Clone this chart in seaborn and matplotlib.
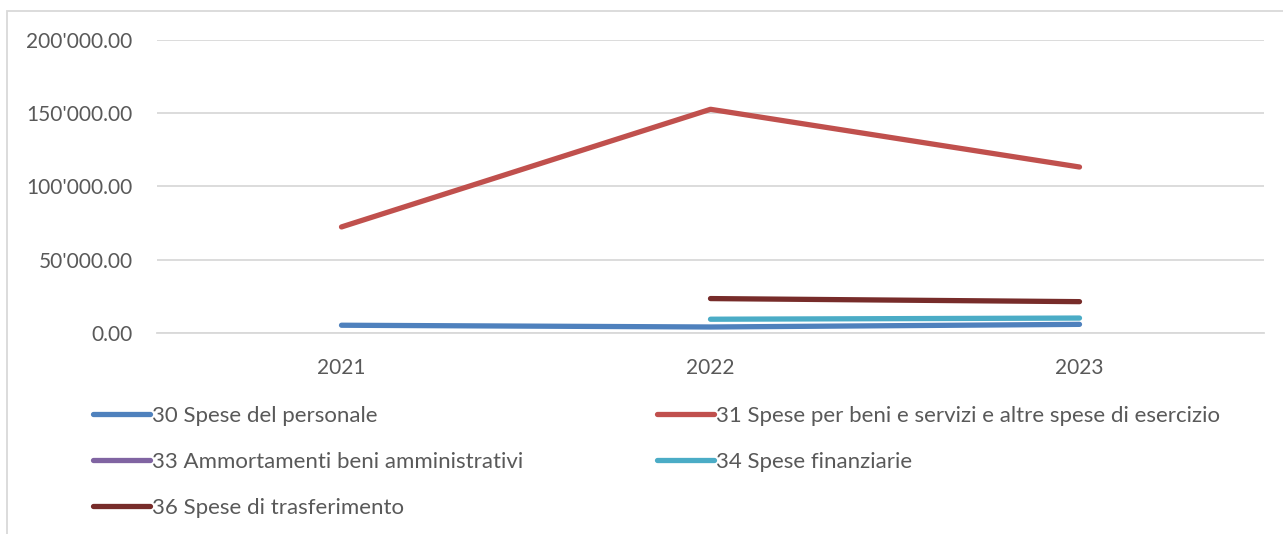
import pandas as pd
import seaborn as sb
import numpy as np
import matplotlib.pyplot as plt
from matplotlib.lines import Line2D
from matplotlib.patches import Rectangle
from matplotlib.ticker import FuncFormatter

years = ["2021", "2022", "2023"]
series_names = ["30 Spese del personale",
                "31 Spese per beni e servizi e altre spese di esercizio",
                "33 Ammortamenti beni amministrativi",
                "34 Spese finanziarie",
                "36 Spese di trasferimento"]
personale = [5300, 4100, 5900]
beni_servizi = [72400, 152700, 113300]
ammortamenti = [np.nan, np.nan, np.nan]
finanziarie = [np.nan, 9400, 10200]
trasferimento = [np.nan, 23500, 21400]
colors = ["#4F81BD", "#C0504D", "#8064A2", "#4BACC6", "#772C2A"]

values = [personale, beni_servizi, ammortamenti, finanziarie, trasferimento]
rows = []
for name, vals in zip(series_names, values):
    for y, v in zip(years, vals):
        rows.append({"anno": y, "serie": name, "importo": v})
df = pd.DataFrame(rows)
palette = dict(zip(series_names, colors))

sb.set_style("white")
plt.rcParams['font.family'] = ['Lato', 'DejaVu Sans']

fig = plt.figure(figsize=(12.83, 5.34), dpi=100)
W, H = 1283, 534
ax = fig.add_axes([157 / W, 1 - 333 / H, (1264 - 157) / W, (333 - 40) / H])

# one line per series, NaN years are just left out
for name in series_names:
    d = df[(df["serie"] == name)].dropna()
    if len(d) == 0:
        continue
    sb.lineplot(data=d, x="anno", y="importo", color=palette[name], lw=3.8,
                ax=ax, solid_capstyle="round", legend=False)

ax.set_xlim(-0.5, 2.5)
ax.set_ylim(0, 200000)
ax.set_yticks([0, 50000, 100000, 150000, 200000])
ax.yaxis.set_major_formatter(FuncFormatter(lambda v, p: "{:,.2f}".format(v).replace(",", "'")))
ax.grid(axis="y", color="#D9D9D9", lw=1.3)
ax.set_axisbelow(True)
for s in ["top", "right", "left"]:
    ax.spines[s].set_visible(False)
ax.spines["bottom"].set_color("#D9D9D9")
ax.spines["bottom"].set_linewidth(1.3)
ax.tick_params(axis="both", length=0, labelsize=15, colors="#595959")
ax.tick_params(axis="y", pad=17.5)
ax.tick_params(axis="x", pad=18)
ax.set_xlabel("")
ax.set_ylabel("")

# legend, two columns
def handles(names):
    return [Line2D([], [], color=palette[n], lw=3.8, solid_capstyle="round") for n in names]

col1 = [series_names[0], series_names[2], series_names[4]]
col2 = [series_names[1], series_names[3]]
kw = dict(frameon=False, fontsize=16, handlelength=2.55, handletextpad=0.1,
          labelspacing=1.16, borderpad=0, borderaxespad=0, labelcolor="#595959", loc="upper left")
fig.legend(handles(col1), col1, bbox_to_anchor=(93 / W, 1 - 406 / H), **kw)
fig.legend(handles(col2), col2, bbox_to_anchor=(657 / W, 1 - 406 / H), **kw)

fig.add_artist(Rectangle((7 / W, -0.01), 1.1, 1 - 11 / H + 0.01, transform=fig.transFigure,
                         fill=False, edgecolor="#D9D9D9", lw=1.3))

fig.savefig("out.png", dpi=100)
